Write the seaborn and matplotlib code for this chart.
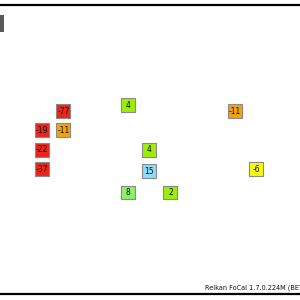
import matplotlib
matplotlib.use("Agg")
import matplotlib.pyplot as plt
import seaborn as sns
import pandas as pd
from matplotlib.patches import Rectangle

# Data: focus point grid positions (column, row) and their values
cols = [1, 4, 9, 0, 1, 0, 5, 0, 5, 10, 4, 6]
rows = [0, -0.3, 0, 1, 1, 2, 2, 3, 3.1, 3, 4.2, 4.2]
values = [-77, 4, -11, -19, -11, -22, 4, -37, 15, -6, 8, 2]
status = ["bad", "good", "warn", "bad", "warn", "bad", "good", "bad", "best", "fair", "ok", "good"]

palette = {
    "bad": "#e8261c",
    "warn": "#f2a20c",
    "good": "#9bee08",
    "ok": "#8ef06a",
    "best": "#8adcf8",
    "fair": "#fbfb0a",
}

df = pd.DataFrame({"col": cols, "row": rows, "value": values, "status": status})

sns.set_style("white")
fig = plt.figure(figsize=(3, 3), dpi=100)
ax = fig.add_axes([0, 0.02, 1, 0.9633])

sns.scatterplot(data=df, x="col", y="row", hue="status", palette=palette,
                marker="s", s=100, edgecolor="#8a8a8a", linewidth=0.8,
                legend=False, ax=ax, zorder=3)

for _, r in df.iterrows():
    ax.text(r["col"], r["row"], f"{r['value']}", ha="center", va="center",
            fontsize=5.5, color="#111111", zorder=4)

ax.set_xlim(-1.963, 12.056)
ax.set_ylim(9.433, -5.464)
ax.set_xticks([])
ax.set_yticks([])
ax.set_xlabel("")
ax.set_ylabel("")
for side in ["left", "right"]:
    ax.spines[side].set_visible(False)
for side in ["top", "bottom"]:
    ax.spines[side].set_visible(True)
    ax.spines[side].set_color("black")
    ax.spines[side].set_linewidth(1.6)

fig.text(0.683, 0.04, "Reikan FoCal 1.7.0.224M (BETA)", fontsize=4.7,
         color="#111111", ha="left", va="center")

fig.patches.append(Rectangle((0.0, 0.893), 0.014, 0.057, transform=fig.transFigure,
                             facecolor="#5a5a5a", edgecolor="none"))

fig.savefig("out.png", dpi=100)
